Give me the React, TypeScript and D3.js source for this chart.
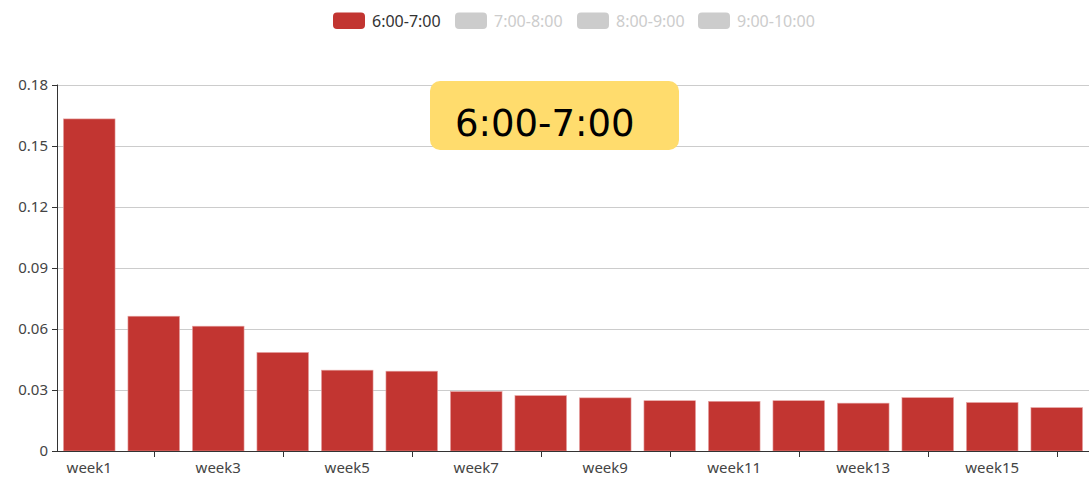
import * as d3 from "d3";

const weeks = [
  "week1", "week2", "week3", "week4", "week5", "week6", "week7", "week8",
  "week9", "week10", "week11", "week12", "week13", "week14", "week15", "week16",
];
const values = [
  0.1631, 0.0662, 0.0613, 0.0484, 0.0397, 0.0392, 0.0292, 0.0272,
  0.0261, 0.0247, 0.0244, 0.0247, 0.0235, 0.0262, 0.0238, 0.0213,
];
const legendNames = ["6:00-7:00", "7:00-8:00", "8:00-9:00", "9:00-10:00"];
const legendX = [333, 455, 577, 698];
const yTicks = [0, 0.03, 0.06, 0.09, 0.12, 0.15, 0.18];

const W = 1089;
const H = 479;
const left = 57;
const right = 1089;
const top = 84.5;
const bottom = 451;
const font = "'Noto Sans', 'DejaVu Sans', sans-serif";

export default function App() {
  const x = d3.scaleBand<string>().domain(weeks).range([left, right]).paddingInner(0.2).paddingOuter(0.1);
  const y = d3.scaleLinear().domain([0, 0.18]).range([bottom, top]);
  const step = x.step();

  return (
    <svg width={W} height={H} style={{ position: "absolute", left: 0, top: 0, background: "#fff" }}>
      {/* legend */}
      {legendNames.map((n, i) => (
        <g key={n}>
          <rect x={legendX[i]} y={12.5} width={32} height={16.5} rx={4}
            fill={i === 0 ? "#c23531" : "#ccc"} />
          <text x={legendX[i] + 39} y={26.5} fontSize={16} fontFamily={font}
            fill={i === 0 ? "#333" : "#ccc"}>{n}</text>
        </g>
      ))}

      {/* grid */}
      {yTicks.map((t) => (
        <g key={t}>
          {t > 0 && <line x1={left} x2={right} y1={Math.round(y(t)) + 0.5} y2={Math.round(y(t)) + 0.5} stroke="#ccc" />}
          <line x1={left - 5} x2={left} y1={Math.round(y(t)) + 0.5} y2={Math.round(y(t)) + 0.5} stroke="#333" />
          <text x={left - 9} y={y(t)} dy="0.35em" textAnchor="end" fontSize={15}
            fontFamily={font} fill="#444">{t === 0 ? "0" : d3.format(".2f")(t)}</text>
        </g>
      ))}

      {/* bars */}
      {weeks.map((w, i) => (
        <rect key={w} x={x(w)} y={y(values[i])} width={x.bandwidth()}
          height={bottom - y(values[i])} fill="#c23531" stroke="#e6a3a2" strokeWidth={0.6} />
      ))}

      {/* axes */}
      <line x1={left + 0.5} x2={left + 0.5} y1={top} y2={bottom} stroke="#333" />
      <line x1={left} x2={right} y1={bottom + 0.5} y2={bottom + 0.5} stroke="#333" />
      {weeks.map((w, i) =>
        i % 2 === 1 ? (
          <line key={w} x1={Math.round(left + step * (i + 0.5)) + 0.5} x2={Math.round(left + step * (i + 0.5)) + 0.5}
            y1={bottom} y2={bottom + 6} stroke="#333" />
        ) : (
          <text key={w} x={left + step * (i + 0.5)} y={bottom + 22} textAnchor="middle"
            fontSize={15} fontFamily={font} fill="#444">{w}</text>
        )
      )}

      {/* title box */}
      <rect x={430} y={81} width={249} height={69} rx={10} fill="#ffdc6d" />
      <text x={455} y={136} fontSize={37} fontFamily="'DejaVu Sans', sans-serif" fill="#000">6:00-7:00</text>
    </svg>
  );
}
